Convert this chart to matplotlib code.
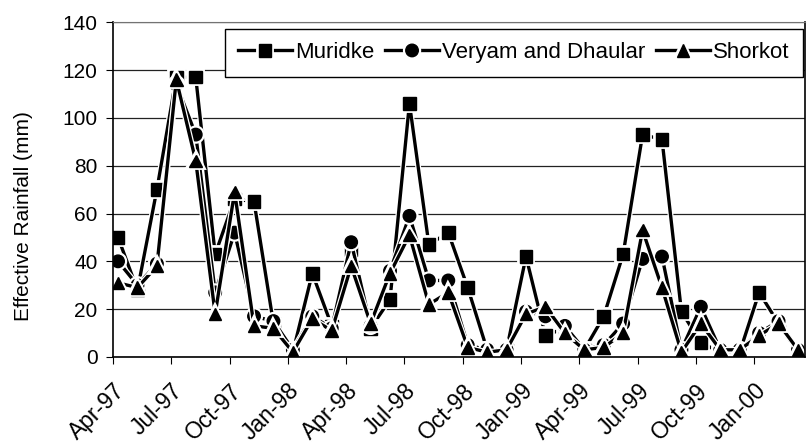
import matplotlib
matplotlib.use("Agg")
import matplotlib.pyplot as plt
import matplotlib.patheffects as pe
import numpy as np

plt.rcParams['font.family'] = ['Liberation Sans', 'DejaVu Sans']

# monthly values, Apr-97 .. Mar-00
months = ['Apr-97', 'May-97', 'Jun-97', 'Jul-97', 'Aug-97', 'Sep-97',
          'Oct-97', 'Nov-97', 'Dec-97', 'Jan-98', 'Feb-98', 'Mar-98',
          'Apr-98', 'May-98', 'Jun-98', 'Jul-98', 'Aug-98', 'Sep-98',
          'Oct-98', 'Nov-98', 'Dec-98', 'Jan-99', 'Feb-99', 'Mar-99',
          'Apr-99', 'May-99', 'Jun-99', 'Jul-99', 'Aug-99', 'Sep-99',
          'Oct-99', 'Nov-99', 'Dec-99', 'Jan-00', 'Feb-00', 'Mar-00']

muridke = [50, 28, 70, 117, 117, 43, 66, 65, 14, 2, 35, 13,
           45, 12, 24, 106, 47, 52, 29, 3, 3, 42, 9, 12,
           3, 17, 43, 93, 91, 19, 6, 2, 2, 27, 14, 2]
veryam = [40, 30, 39, 114, 93, 27, 52, 17, 15, 3, 17, 12,
          48, 13, 36, 59, 32, 32, 5, 3, 3, 19, 17, 13,
          3, 5, 14, 41, 42, 3, 21, 3, 3, 10, 15, 3]
shorkot = [31, 29, 38, 116, 82, 18, 69, 13, 12, 2, 16, 11,
           38, 14, 35, 51, 22, 27, 4, 2, 3, 18, 21, 10,
           3, 4, 10, 53, 29, 2, 14, 3, 3, 9, 14, 3]

series = [
    ("Muridke", muridke, "s"),
    ("Veryam and Dhaular", veryam, "o"),
    ("Shorkot", shorkot, "^"),
]

fig = plt.figure(figsize=(8.07, 4.44), dpi=100)
ax = fig.add_axes([0.140, 0.196, 0.8575, 0.754])

x = np.arange(len(months))
halo = [pe.withStroke(linewidth=4.2, foreground="white")]
for name, vals, mk in series:
    ax.plot(x, vals, color="black", linewidth=2.4, marker=mk,
            markersize=9, markerfacecolor="black", markeredgecolor="black",
            label=name, path_effects=halo)

ax.set_ylim(0, 140)
ax.set_yticks(range(0, 141, 20))
ax.set_xlim(-0.26, 35.36)
tick_pos = np.arange(0, len(months), 3) - 0.26
ax.set_xticks(tick_pos)
ax.set_xticklabels(months[::3], rotation=45, ha="right",
                   rotation_mode="anchor", fontsize=16.5)
ax.tick_params(axis="y", labelsize=15, length=5, direction="out", pad=6)
ax.tick_params(axis="x", length=5, direction="out", pad=11)

ax.yaxis.grid(True, color="#222222", linewidth=0.9)
ax.set_axisbelow(True)
for side in ["left", "bottom", "right"]:
    ax.spines[side].set_color("black")
    ax.spines[side].set_linewidth(1.2)
ax.spines["top"].set_color("0.45")
ax.spines["top"].set_linestyle((0, (2, 1)))

ax.set_ylabel("Effective Rainfall (mm)", fontsize=15)
ax.yaxis.set_label_coords(-0.115, 0.42)

leg = ax.legend(loc="upper right", bbox_to_anchor=(0.997, 0.98), ncol=3,
                fontsize=16, frameon=True, fancybox=False, handlelength=2.4,
                handletextpad=0.15, columnspacing=0.5, borderpad=0.6,
                borderaxespad=0.0)
leg.get_frame().set_edgecolor("black")
leg.get_frame().set_linewidth(1.0)
leg.get_frame().set_alpha(1)

fig.savefig("out.png", dpi=100)
